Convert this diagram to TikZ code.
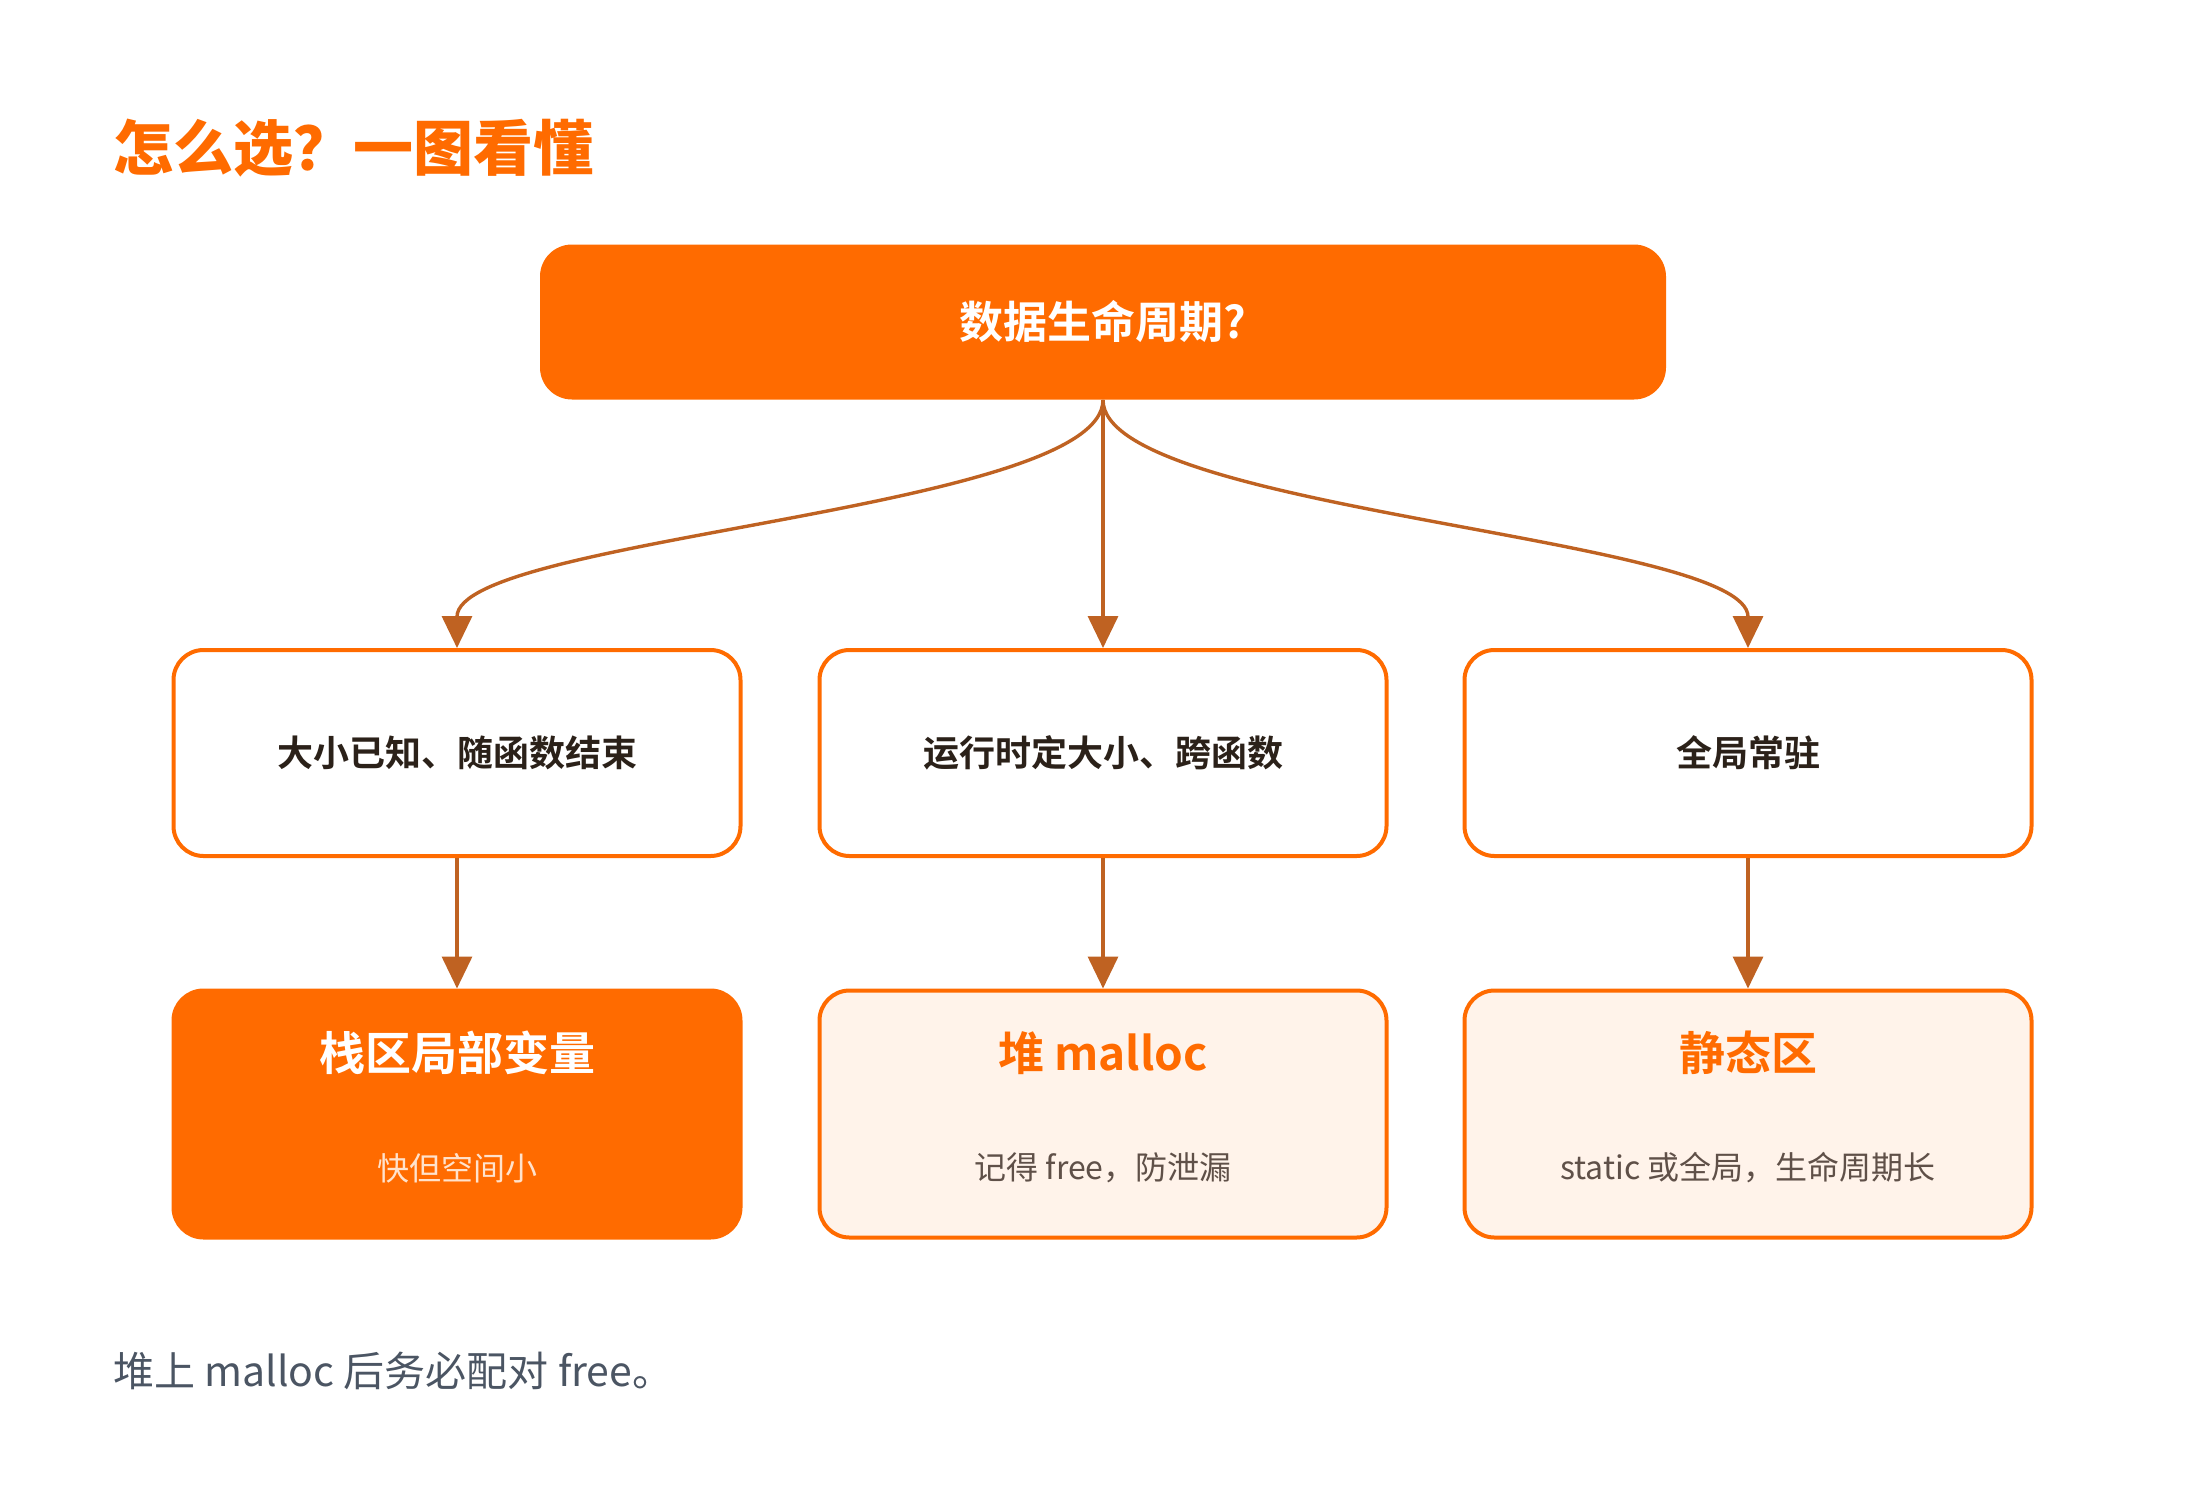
\documentclass[tikz,border=0pt]{standalone}
\usepackage{fontspec}
\setmainfont{Noto Sans CJK SC}[BoldFont={Noto Sans CJK SC Bold}]
\newfontfamily\heavyfont{Noto Sans CJK SC Black}
\usetikzlibrary{arrows.meta}
\definecolor{accent}{HTML}{FF6B00}
\definecolor{flowc}{HTML}{BF6222}
\definecolor{paleFill}{HTML}{FFF3EA}
\definecolor{inkDark}{HTML}{2B2119}
\definecolor{inkSub}{HTML}{5F5048}
\definecolor{inkPeach}{HTML}{FFE2CC}
\definecolor{inkNote}{HTML}{4B5563}

\begin{document}
\begin{tikzpicture}[x=0.5pt,y=0.5pt,yscale=-1,xscale=1,
  topbox/.style={fill=accent, rounded corners=16pt, minimum width=563pt, minimum height=77.5pt, text=white, font=\fontsize{22}{26}\selectfont\bfseries},
  askbox/.style={draw=accent, line width=2pt, fill=white, rounded corners=15pt, minimum width=283.5pt, minimum height=103pt, text=inkDark, font=\fontsize{18}{22}\selectfont\bfseries},
  areabox/.style={draw=accent, line width=2pt, fill=paleFill, rounded corners=15pt, minimum width=283.5pt, minimum height=123.5pt},
  areahead/.style={inner sep=0.75pt, text=accent, font=\fontsize{23}{28}\selectfont\bfseries},
  areasub/.style={inner sep=0.75pt, text=inkSub, font=\fontsize{16}{20}\selectfont},
  flow/.style={draw=flowc, line width=1.7pt, -{Triangle[length=16pt,width=15pt]}}]
    \path[use as bounding box] (0,0) rectangle (2200,1488);

    % Text Node
    \node [anchor=west, inner sep=0pt, text=accent, font=\fontsize{30}{36}\heavyfont] (title) at (113,148) {怎么选？一图看懂};

    %Shape: Rounded Rect
    \node [topbox] (life) at (1103,322) {数据生命周期?};

    %Shape: Rounded Rect
    \node [askbox] (known) at (457,753) {大小已知、随函数结束};
    %Shape: Rounded Rect
    \node [askbox] (runtime) at (1103,753) {运行时定大小、跨函数};
    %Shape: Rounded Rect
    \node [askbox] (global) at (1748,753) {全局常驻};

    %Shape: Rounded Rect
    \node [areabox, fill=accent] (stack) at (457,1114) {};
    %Shape: Rounded Rect
    \node [areabox] (heap) at (1103,1114) {};
    %Shape: Rounded Rect
    \node [areabox] (static) at (1748,1114) {};

    % Text Node
    \node [areahead, text=white] (stackhd) at (457,1053) {栈区局部变量};
    % Text Node
    \node [areasub, text=inkPeach] (stacksb) at (457,1168) {快但空间小};
    % Text Node
    \node [areahead] (heaphd) at (1103,1053) {堆 malloc};
    % Text Node
    \node [areasub] (heapsb) at (1103,1168) {记得 free，防泄漏};
    % Text Node
    \node [areahead] (statichd) at (1748,1053) {静态区};
    % Text Node
    \node [areasub] (staticsb) at (1748,1168) {static 或全局，生命周期长};

    %Curve Lines
    \draw [flow] (life.south) .. controls +(0,111) and +(0,-111) .. (known.north);
    %Straight Lines
    \draw [flow] (life.south) -- (runtime.north);
    %Curve Lines
    \draw [flow] (life.south) .. controls +(0,111) and +(0,-111) .. (global.north);
    %Straight Lines
    \draw [flow] (known.south) -- (stack.north);
    \draw [flow] (runtime.south) -- (heap.north);
    \draw [flow] (global.south) -- (static.north);

    % Text Node
    \node [anchor=west, inner sep=0pt, text=inkNote, font=\fontsize{20.5}{25}\selectfont] (note) at (113,1371) {堆上 malloc 后务必配对 free。};
\end{tikzpicture}
\end{document}
